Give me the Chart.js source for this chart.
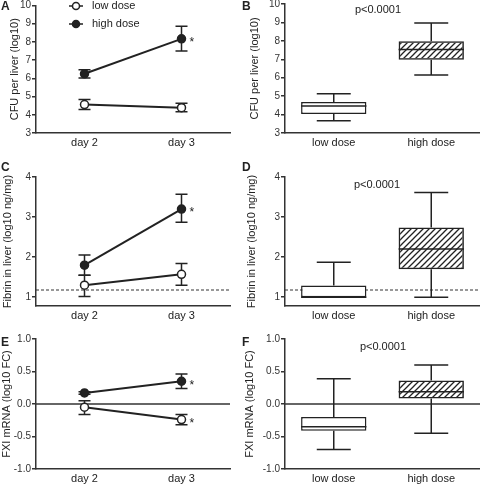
<!DOCTYPE html>
<html>
<head>
<meta charset="utf-8">
<script src="https://cdn.jsdelivr.net/npm/chart.js@4.4.1/dist/chart.umd.min.js"></script>
<style>
body { margin: 0; background: #fff; width: 480px; height: 485px; position: relative; overflow: hidden;
       font-family: "Liberation Sans", Arial, sans-serif; color: #222; }
canvas { position: absolute; }
.letter { position: absolute; font-weight: bold; font-size: 12px; line-height: 12px; }
.pval { position: absolute; font-size: 11px; line-height: 12px; transform: translateX(-50%); }
</style>
</head>
<body>
<canvas id="cA" width="240" height="160" style="left:0;top:0"></canvas>
<canvas id="cB" width="240" height="160" style="left:240px;top:0"></canvas>
<canvas id="cC" width="240" height="165" style="left:0;top:160px"></canvas>
<canvas id="cD" width="240" height="165" style="left:240px;top:160px"></canvas>
<canvas id="cE" width="240" height="165" style="left:0;top:320px"></canvas>
<canvas id="cF" width="240" height="165" style="left:240px;top:320px"></canvas>

<div class="letter" style="left:1px;top:0">A</div>
<div class="letter" style="left:242px;top:0">B</div>
<div class="letter" style="left:1px;top:161px">C</div>
<div class="letter" style="left:242px;top:161px">D</div>
<div class="letter" style="left:1px;top:336px">E</div>
<div class="letter" style="left:242px;top:336px">F</div>

<div class="pval" style="left:378px;top:3px">p&lt;0.0001</div>
<div class="pval" style="left:377px;top:178px">p&lt;0.0001</div>
<div class="pval" style="left:383px;top:340px">p&lt;0.0001</div>

<script>
// categories
const days = ["day 2", "day 3"];
const doses = ["low dose", "high dose"];

// A: CFU per liver over time (mean, [lower, upper] error)
const cfuLow = [4.56, 4.39];
const cfuLowErr = [[4.29, 4.84], [4.16, 4.64]];
const cfuHigh = [6.25, 8.17];
const cfuHighErr = [[6.02, 6.47], [7.50, 8.86]];
const cfuLowStar = [false, false];
const cfuHighStar = [false, true];
const cfuTicks = [3, 4, 5, 6, 7, 8, 9, 10];

// B: CFU per liver box plots [min, q1, median, q3, max]
const cfuBoxLow = [3.67, 4.03, 4.47, 4.68, 5.13];
const cfuBoxHigh = [6.15, 6.98, 7.53, 7.98, 8.97];

// C: fibrin in liver over time
const fibLow = [1.30, 1.57];
const fibLowErr = [[1.02, 1.55], [1.30, 1.84]];
const fibHigh = [1.80, 3.20];
const fibHighErr = [[1.55, 2.05], [2.87, 3.57]];
const fibLowStar = [false, false];
const fibHighStar = [false, true];
const fibTicks = [1, 2, 3, 4];
const fibDetection = 1.18;

// D: fibrin box plots
const fibBoxLow = [1.00, 1.00, 1.00, 1.29, 1.87];
const fibBoxHigh = [1.00, 1.70, 2.20, 2.74, 3.61];

// E: FXI mRNA over time
const fxiLow = [-0.05, -0.24];
const fxiLowErr = [[-0.16, 0.05], [-0.32, -0.16]];
const fxiHigh = [0.17, 0.35];
const fxiHighErr = [[0.15, 0.19], [0.24, 0.46]];
const fxiLowStar = [false, true];
const fxiHighStar = [false, true];
const fxiTicks = [-1, -0.5, 0, 0.5, 1];

// F: FXI mRNA box plots
const fxiBoxLow = [-0.70, -0.41, -0.35, -0.20, 0.39];
const fxiBoxHigh = [-0.45, 0.085, 0.19, 0.36, 0.60];

const ink = "#222";

function hatchPattern() {
    const c = document.createElement("canvas");
    c.width = 6; c.height = 6;
    const g = c.getContext("2d");
    g.strokeStyle = ink;
    g.lineWidth = 1.3;
    g.beginPath();
    g.moveTo(0, 6); g.lineTo(6, 0);
    g.moveTo(-1, 1); g.lineTo(1, -1);
    g.moveTo(5, 7); g.lineTo(7, 5);
    g.stroke();
    return g.createPattern(c, "repeat");
}

// error bars drawn under the points, asterisks after
const errorBars = {
    id: "errorBars",
    beforeDatasetsDraw(chart) {
        const ctx = chart.ctx, y = chart.scales.y;
        chart.data.datasets.forEach((ds, i) => {
            if (!ds.errs) return;
            chart.getDatasetMeta(i).data.forEach((pt, j) => {
                const top = y.getPixelForValue(ds.errs[j][1]);
                const bot = y.getPixelForValue(ds.errs[j][0]);
                ctx.save();
                ctx.strokeStyle = ink;
                ctx.lineWidth = 1.5;
                ctx.beginPath();
                ctx.moveTo(pt.x, top); ctx.lineTo(pt.x, bot);
                ctx.moveTo(pt.x - 6, top); ctx.lineTo(pt.x + 6, top);
                ctx.moveTo(pt.x - 6, bot); ctx.lineTo(pt.x + 6, bot);
                ctx.stroke();
                ctx.restore();
            });
        });
    },
    afterDatasetsDraw(chart) {
        const ctx = chart.ctx;
        chart.data.datasets.forEach((ds, i) => {
            if (!ds.stars) return;
            chart.getDatasetMeta(i).data.forEach((pt, j) => {
                if (!ds.stars[j]) return;
                ctx.save();
                ctx.fillStyle = ink;
                ctx.font = "12px 'Liberation Sans', Arial";
                ctx.textAlign = "left";
                ctx.textBaseline = "middle";
                ctx.fillText("*", pt.x + 8, pt.y + 4);
                ctx.restore();
            });
        });
    }
};

// horizontal reference line (zero line or detection limit)
const refLine = {
    id: "refLine",
    beforeDatasetsDraw(chart, args, opts) {
        if (opts.value === undefined) return;
        const ctx = chart.ctx, a = chart.chartArea;
        const yy = chart.scales.y.getPixelForValue(opts.value);
        ctx.save();
        ctx.strokeStyle = "#333";
        ctx.lineWidth = opts.dash ? 1.2 : 1.5;
        ctx.setLineDash(opts.dash || []);
        ctx.beginPath();
        ctx.moveTo(a.left, yy); ctx.lineTo(a.right, yy);
        ctx.stroke();
        ctx.restore();
    }
};

// whiskers + median on top of floating bars
const boxWhiskers = {
    id: "boxWhiskers",
    afterDatasetsDraw(chart) {
        const ctx = chart.ctx, y = chart.scales.y;
        chart.data.datasets.forEach((ds, i) => {
            if (!ds.stats) return;
            chart.getDatasetMeta(i).data.forEach((bar, j) => {
                const [mn, q1, med, q3, mx] = ds.stats[j];
                const half = bar.width / 2, cap = bar.width * 0.26;
                const x = bar.x;
                ctx.save();
                ctx.strokeStyle = ink;
                ctx.lineWidth = 1.5;
                ctx.beginPath();
                ctx.moveTo(x, y.getPixelForValue(q3)); ctx.lineTo(x, y.getPixelForValue(mx));
                ctx.moveTo(x, y.getPixelForValue(q1)); ctx.lineTo(x, y.getPixelForValue(mn));
                ctx.moveTo(x - cap, y.getPixelForValue(mx)); ctx.lineTo(x + cap, y.getPixelForValue(mx));
                ctx.moveTo(x - cap, y.getPixelForValue(mn)); ctx.lineTo(x + cap, y.getPixelForValue(mn));
                ctx.moveTo(x - half, y.getPixelForValue(med)); ctx.lineTo(x + half, y.getPixelForValue(med));
                ctx.stroke();
                ctx.restore();
            });
        });
    }
};

// legend of panel A (line + marker + text)
const doseLegend = {
    id: "doseLegend",
    afterDraw(chart, args, opts) {
        if (!opts.show) return;
        const ctx = chart.ctx;
        [["low dose", "#fff", 6], ["high dose", ink, 24]].forEach(([txt, fill, yy]) => {
            ctx.save();
            ctx.strokeStyle = ink;
            ctx.lineWidth = 1.5;
            ctx.beginPath(); ctx.moveTo(69, yy); ctx.lineTo(83, yy); ctx.stroke();
            ctx.beginPath(); ctx.arc(76, yy, 3.5, 0, Math.PI * 2);
            ctx.fillStyle = fill; ctx.fill(); ctx.stroke();
            ctx.fillStyle = ink;
            ctx.font = "11px 'Liberation Sans', Arial";
            ctx.textBaseline = "middle";
            ctx.fillText(txt, 92, yy);
            ctx.restore();
        });
    }
};

function yAxis(title, min, max, ticks, width, titlePad) {
    return {
        min: min, max: max,
        afterBuildTicks: s => { s.ticks = ticks.map(v => ({ value: v })); },
        afterFit: s => { s.width = width; s.paddingTop = 0; s.paddingBottom = 0; },
        border: { display: true, color: "#333", width: 1.5 },
        grid: { display: true, drawOnChartArea: false, drawTicks: true, tickLength: 4, color: "#333", lineWidth: 1.5 },
        ticks: {
            color: "#333", font: { size: 10 }, padding: 1,
            callback: v => (ticks.some(t => !Number.isInteger(t)) ? v.toFixed(1) : v)
        },
        title: { display: true, text: title, color: ink, font: { size: 11 }, padding: { top: titlePad, bottom: 0 } }
    };
}

function xAxis(labels, height) {
    return {
        type: "category", labels: labels, offset: true,
        afterFit: s => { s.height = height; s.paddingLeft = 0; s.paddingRight = 0; },
        border: { display: true, color: "#333", width: 1.5 },
        grid: { display: false, drawTicks: false },
        ticks: { color: ink, font: { size: 11 }, padding: 3, maxRotation: 0 }
    };
}

Chart.defaults.font.family = "'Liberation Sans', Arial, sans-serif";

function linePanel(id, y, xHeight, padTop, lowSet, highSet, plugOpts) {
    const common = { borderColor: ink, borderWidth: 2, pointRadius: 4, pointHoverRadius: 4,
                     pointBorderColor: ink, pointBorderWidth: 1.5 };
    return new Chart(document.getElementById(id), {
        type: "line",
        data: {
            labels: days,
            datasets: [
                Object.assign({ label: "low dose", data: lowSet[0], errs: lowSet[1], stars: lowSet[2],
                                pointBackgroundColor: "#fff" }, common),
                Object.assign({ label: "high dose", data: highSet[0], errs: highSet[1], stars: highSet[2],
                                pointBackgroundColor: ink }, common)
            ]
        },
        options: {
            responsive: false, animation: false,
            layout: { padding: { top: padTop, right: 10, left: 0, bottom: 0 } },
            plugins: Object.assign({ legend: { display: false }, tooltip: { enabled: false } }, plugOpts),
            scales: { x: xAxis(days, xHeight), y: y }
        },
        plugins: [refLine, errorBars, doseLegend]
    });
}

function boxPanel(id, y, xHeight, padTop, lowStats, highStats, plugOpts) {
    return new Chart(document.getElementById(id), {
        type: "bar",
        data: {
            labels: doses,
            datasets: [{
                data: [[lowStats[1], lowStats[3]], [highStats[1], highStats[3]]],
                stats: [lowStats, highStats],
                backgroundColor: ["#fff", hatchPattern()],
                borderColor: ink, borderWidth: 1.5, borderSkipped: false,
                barPercentage: 0.67, categoryPercentage: 1
            }]
        },
        options: {
            responsive: false, animation: false,
            layout: { padding: { top: padTop, right: 0, left: 0, bottom: 0 } },
            plugins: Object.assign({ legend: { display: false }, tooltip: { enabled: false } }, plugOpts),
            scales: { x: xAxis(doses, xHeight), y: y }
        },
        plugins: [refLine, boxWhiskers]
    });
}

linePanel("cA", yAxis("CFU per liver (log10)", 3, 10, cfuTicks, 36, 8), 27, 4,
    [cfuLow, cfuLowErr, cfuLowStar], [cfuHigh, cfuHighErr, cfuHighStar],
    { doseLegend: { show: true } });
boxPanel("cB", yAxis("CFU per liver (log10)", 3, 10, cfuTicks, 45, 8), 27, 4,
    cfuBoxLow, cfuBoxHigh, {});

linePanel("cC", yAxis("Fibrin in liver (log10 ng/mg)", 0.78, 4, fibTicks, 36, 1), 19, 17,
    [fibLow, fibLowErr, fibLowStar], [fibHigh, fibHighErr, fibHighStar],
    { refLine: { value: fibDetection, dash: [3, 2] } });
boxPanel("cD", yAxis("Fibrin in liver (log10 ng/mg)", 0.78, 4, fibTicks, 45, 5), 19, 17,
    fibBoxLow, fibBoxHigh, { refLine: { value: fibDetection, dash: [3, 2] } });

linePanel("cE", yAxis("FXI mRNA (log10 FC)", -1, 1, fxiTicks, 36, 0), 16, 19,
    [fxiLow, fxiLowErr, fxiLowStar], [fxiHigh, fxiHighErr, fxiHighStar],
    { refLine: { value: 0 } });
boxPanel("cF", yAxis("FXI mRNA (log10 FC)", -1, 1, fxiTicks, 45, 3), 16, 19,
    fxiBoxLow, fxiBoxHigh, { refLine: { value: 0 } });
</script>
</body>
</html>
